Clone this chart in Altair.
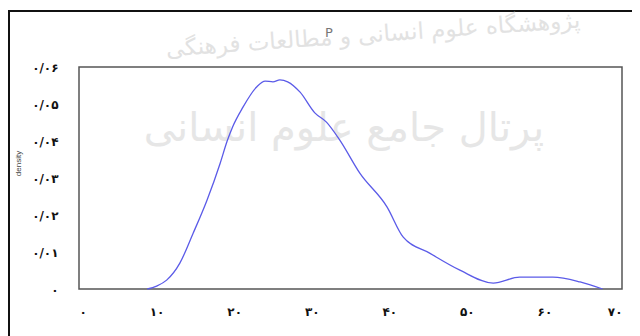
import altair as alt
import pandas as pd

# density curve
x_vals = [8.8, 10, 11.3, 13.0, 14.7, 16.5, 18.2, 19.1, 19.8, 21.1, 22.9, 24.0, 25.0, 25.9, 26.9,
          28.5, 30.4, 31.9, 33.6, 36.2, 39.7, 41.8, 45.2, 49.1, 53.4, 56.8, 61.1, 64.6, 67.5]
dens = [0.0, 0.0008, 0.0024, 0.007, 0.015, 0.024, 0.034, 0.0400, 0.0438, 0.0490, 0.0546, 0.0562,
        0.056, 0.0565, 0.056, 0.0532, 0.0476, 0.0451, 0.0403, 0.0313, 0.0222, 0.014, 0.0097,
        0.0051, 0.0016, 0.0032, 0.0032, 0.0019, 0.0]

x_ticks = [0, 10, 20, 30, 40, 50, 60, 70]
x_tick_labels = ["۰", "۱۰", "۲۰", "۳۰", "۴۰", "۵۰", "۶۰", "۷۰"]
y_ticks = [0, 0.01, 0.02, 0.03, 0.04, 0.05, 0.06]
y_tick_labels = ["۰", "۰/۰۱", "۰/۰۲", "۰/۰۳", "۰/۰۴", "۰/۰۵", "۰/۰۶"]

title_text = "P"
y_title = "density"
watermark_top = "پژوهشگاه علوم انسانی و مطالعات فرهنگی"
watermark_mid = "پرتال جامع علوم انسانی"

df = pd.DataFrame({"x": x_vals, "density": dens})

def arr(labels):
    return "[" + ",".join("'" + s + "'" for s in labels) + "]"

x_expr = arr(x_tick_labels) + "[round(datum.value/10)]"
y_expr = arr(y_tick_labels) + "[round(datum.value*100)]"

W, H = 543, 222

one = pd.DataFrame({"a": [0]})

frame = alt.Chart(one).mark_rect(
    fill="transparent", stroke="#111", strokeWidth=2, clip=False
).encode(x=alt.value(-70), x2=alt.value(570), y=alt.value(-56), y2=alt.value(290))

wm_top = alt.Chart(pd.DataFrame({"t": [watermark_top]})).mark_text(
    fontSize=23, color="#e2e2e2", font="DejaVu Sans", angle=356, clip=False
).encode(text="t:N", x=alt.value(294), y=alt.value(-32))
wm_mid = alt.Chart(pd.DataFrame({"t": [watermark_mid]})).mark_text(
    fontSize=40, color="#e6e6e6", font="DejaVu Sans", clip=False
).encode(text="t:N", x=alt.value(265), y=alt.value(62))

title_mark = alt.Chart(pd.DataFrame({"t": [title_text]})).mark_text(
    fontSize=13, color="#777", font="DejaVu Sans", clip=False
).encode(text="t:N", x=alt.value(250), y=alt.value(-34))

axis_common = dict(grid=False, ticks=False, domain=False, labelFontSize=12,
                   labelFontWeight="bold", labelColor="#111", labelFont="DejaVu Sans")

line = alt.Chart(df).mark_line(
    color="#5b5be8", strokeWidth=1.3, interpolate="monotone"
).encode(
    x=alt.X("x:Q", scale=alt.Scale(domain=[0, 70], nice=False),
            axis=alt.Axis(values=x_ticks, labelExpr=x_expr, title=None,
                          labelPadding=17, **axis_common)),
    y=alt.Y("density:Q", scale=alt.Scale(domain=[0, 0.06], nice=False),
            axis=alt.Axis(values=y_ticks, labelExpr=y_expr, title=y_title,
                          labelPadding=21, titleFontSize=8, titleFontWeight="normal",
                          titleColor="#444", titleX=-57, titleY=96, titleAngle=270,
                          **axis_common)),
)

chart = alt.layer(frame, wm_top, wm_mid, title_mark, line).properties(
    width=W, height=H,
    autosize=alt.AutoSizeParams(type="none"),
    padding={"left": 71, "top": 59, "right": 10, "bottom": 47},
).configure_view(stroke="#555", strokeWidth=1.5)

chart.save("out.html", embed_options={"renderer": "svg", "actions": False})
